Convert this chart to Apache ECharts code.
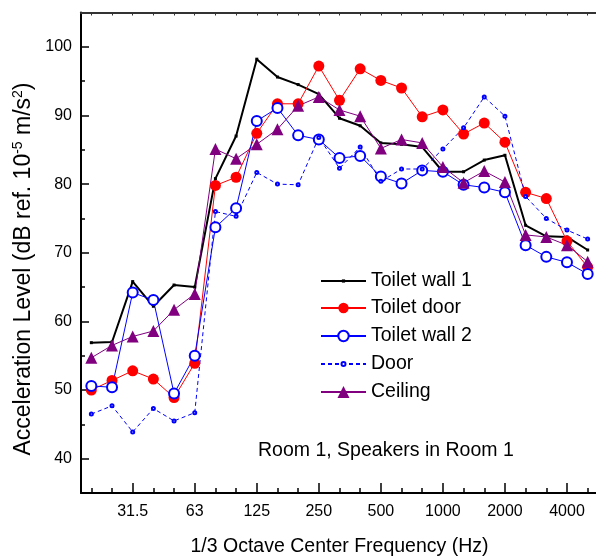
<!DOCTYPE html>
<html>
<head>
<meta charset="utf-8">
<script src="https://cdn.jsdelivr.net/npm/echarts@6/dist/echarts.min.js"></script>
<style>
  html, body { margin: 0; padding: 0; background: #fff; }
  #chart { width: 596px; height: 559px; }
</style>
</head>
<body>
<div id="chart"></div>
<script>
// 1/3-octave band centre frequencies (Hz), one point per band
const bandLabels = ['20', '25', '31.5', '40', '50', '63', '80', '100', '125', '160', '200', '250', '315',
  '400', '500', '630', '800', '1000', '1250', '1600', '2000', '2500', '3150', '4000', '5000'];
const labeledBands = ['31.5', '63', '125', '250', '500', '1000', '2000', '4000'];
const yTickLabels = [40, 50, 60, 70, 80, 90, 100];
const yMinorTicks = [45, 55, 65, 75, 85, 95];

// Acceleration level per band, dB re 1e-5 m/s^2
const toiletWall1 = [56.9, 57.0, 65.8, 62.2, 65.3, 65.0, 80.8, 87.0, 98.2, 95.6, 94.5, 93.1, 89.6,
  88.5, 86.0, 85.8, 85.4, 81.8, 81.8, 83.5, 84.2, 74.0, 72.4, 72.3, 70.4];
const toiletDoor = [50.0, 51.4, 52.8, 51.6, 48.9, 53.9, 79.8, 81.0, 87.4, 91.7, 91.7, 97.2, 92.2,
  96.8, 95.1, 94.0, 89.8, 90.8, 87.3, 88.9, 86.1, 78.8, 77.9, 71.7, 67.9];
const toiletWall2 = [50.6, 50.4, 64.2, 63.1, 49.5, 55.0, 73.7, 76.5, 89.2, 91.1, 87.1, 86.5, 83.8,
  84.1, 81.1, 80.1, 82.0, 81.8, 79.9, 79.5, 78.8, 71.1, 69.4, 68.6, 66.9];
const door = [46.5, 47.7, 43.9, 47.3, 45.5, 46.7, 76.0, 75.3, 81.7, 80.0, 79.9, 86.8, 82.3,
  85.4, 80.4, 82.2, 82.2, 85.1, 88.2, 92.7, 89.9, 78.2, 75.0, 73.3, 72.0];
const ceiling = [54.7, 56.5, 57.8, 58.6, 61.7, 64.0, 85.1, 83.7, 85.8, 88.0, 91.4, 92.7, 90.8,
  89.9, 85.2, 86.5, 86.0, 82.5, 80.2, 81.9, 80.3, 72.6, 72.3, 71.1, 68.7];

const FONT = '"Liberation Sans", Arial, Helvetica, sans-serif';
const allBands = bandLabels.map((_, i) => i);
const majorBands = labeledBands.map(l => bandLabels.indexOf(l));
const toPoints = vals => vals.map((v, i) => [i, v]);

const chart = echarts.init(document.getElementById('chart'), null, { renderer: 'canvas' });

const xBase = { type: 'value', gridIndex: 0, min: -0.5, max: 24.5, splitLine: { show: false } };
const yBase = { type: 'value', gridIndex: 0, min: 35, max: 105, splitLine: { show: false } };

function legendFor(name, top, itemHeight) {
  return {
    data: [name], left: 320, top: top, orient: 'vertical', padding: 0,
    itemWidth: 45, itemHeight: itemHeight, selectedMode: false,
    textStyle: { fontFamily: FONT, fontSize: 19.5, color: '#000', lineHeight: 20 }
  };
}

chart.setOption({
  animation: false,
  backgroundColor: '#fff',
  textStyle: { fontFamily: FONT },
  grid: { left: 81, right: -2, top: 12.5, bottom: 66, containLabel: false, outerBoundsMode: 'none' },
  title: {
    text: 'Room 1, Speakers in Room 1', left: 258, top: 441, padding: 0,
    textStyle: { fontFamily: FONT, fontSize: 19.5, fontWeight: 'normal', color: '#000' }
  },
  legend: [
    legendFor('Toilet wall 1', 271, 4),
    legendFor('Toilet door', 298, 13),
    legendFor('Toilet wall 2', 326, 13),
    legendFor('Door', 354, 5),
    legendFor('Ceiling', 382, 15)
  ],
  xAxis: [
    Object.assign({}, xBase, {
      position: 'bottom',
      name: '1/3 Octave Center Frequency (Hz)', nameLocation: 'middle', nameGap: 44,
      nameTextStyle: { fontFamily: FONT, fontSize: 19.5, color: '#000' },
      axisLine: { show: true, onZero: false, lineStyle: { color: '#000', width: 2 } },
      axisTick: { show: true, inside: true, length: 10, customValues: majorBands, lineStyle: { color: '#000', width: 1.5 } },
      axisLabel: {
        show: true, customValues: majorBands, margin: 11,
        fontFamily: FONT, fontSize: 16, color: '#000',
        formatter: v => bandLabels[Math.round(v)]
      }
    }),
    Object.assign({}, xBase, {
      position: 'bottom',
      axisLine: { show: false, onZero: false },
      axisTick: { show: true, inside: true, length: 5, customValues: allBands, lineStyle: { color: '#000', width: 1.5 } },
      axisLabel: { show: false }
    }),
    Object.assign({}, xBase, {
      position: 'top',
      axisLine: { show: true, onZero: false, lineStyle: { color: '#333', width: 2 } },
      axisTick: { show: true, inside: true, length: 3, customValues: allBands, lineStyle: { color: '#333', width: 1 } },
      axisLabel: { show: false }
    })
  ],
  yAxis: [
    Object.assign({}, yBase, {
      position: 'left',
      axisLine: { show: true, onZero: false, lineStyle: { color: '#000', width: 2 } },
      axisTick: { show: true, inside: true, length: 8, customValues: yTickLabels, lineStyle: { color: '#000', width: 1.5 } },
      axisLabel: { show: true, customValues: yTickLabels, margin: 9, fontFamily: FONT, fontSize: 16, color: '#000' }
    }),
    Object.assign({}, yBase, {
      position: 'left',
      axisLine: { show: false, onZero: false },
      axisTick: { show: true, inside: true, length: 4, customValues: yMinorTicks, lineStyle: { color: '#000', width: 1.5 } },
      axisLabel: { show: false }
    })
  ],
  graphic: [{
    type: 'text', x: 24, y: 269, rotation: Math.PI / 2,
    style: {
      text: '{n|Acceleration Level (dB ref. 10}{s|-5}{n| m/s}{s|2}{n|)}',
      align: 'center', verticalAlign: 'middle', fill: '#000',
      rich: {
        n: { fontFamily: FONT, fontSize: 23, lineHeight: 26, fill: '#000' },
        s: { fontFamily: FONT, fontSize: 14, lineHeight: 15, verticalAlign: 'top', fill: '#000' }
      }
    }
  }],
  series: [
    {
      name: 'Toilet wall 1', type: 'line', data: toPoints(toiletWall1),
      symbol: 'rect', symbolSize: 3, color: '#000',
      lineStyle: { color: '#000', width: 2 }, itemStyle: { color: '#000' }
    },
    {
      name: 'Toilet door', type: 'line', data: toPoints(toiletDoor),
      symbol: 'circle', symbolSize: 11, color: '#ff0000',
      lineStyle: { color: '#ff0000', width: 1 }, itemStyle: { color: '#ff0000' }
    },
    {
      name: 'Toilet wall 2', type: 'line', data: toPoints(toiletWall2),
      symbol: 'emptyCircle', symbolSize: 10, color: '#0000ff',
      lineStyle: { color: '#0000ff', width: 1 },
      itemStyle: { color: '#0000ff', borderWidth: 1.3 }
    },
    {
      name: 'Door', type: 'line', data: toPoints(door),
      symbol: 'emptyCircle', symbolSize: 3, color: '#0000ff',
      lineStyle: { color: '#0000ff', width: 1, type: [4, 3] },
      itemStyle: { color: '#0000ff', borderWidth: 1 }
    },
    {
      name: 'Ceiling', type: 'line', data: toPoints(ceiling),
      symbol: 'triangle', symbolSize: 12, color: '#800080',
      lineStyle: { color: '#800080', width: 1 }, itemStyle: { color: '#800080' }
    }
  ]
});
</script>
</body>
</html>
